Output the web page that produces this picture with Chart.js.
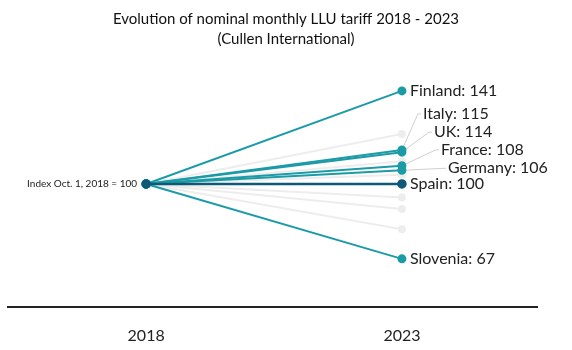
<!DOCTYPE html>
<html lang="en">
<head>
    <meta charset="UTF-8">
    <title>Evolution of nominal monthly LLU tariff 2018 - 2023</title>
    <script src="https://cdn.jsdelivr.net/npm/chart.js@4.4.0/dist/chart.umd.min.js"></script>
    <style>
        html, body { margin: 0; padding: 0; background: #fff; }
        #wrap { width: 572px; height: 350px; position: relative; }
    </style>
</head>
<body>
    <div id="wrap"><canvas id="chart"></canvas></div>

    <script>
        // data
        const years = [2018, 2023];
        const baseIndex = 100;
        const countries = ['Finland', 'Italy', 'UK', 'France', 'Germany', 'Spain', 'Slovenia'];
        const index2023 = [141, 115, 114, 108, 106, 100, 67];
        const otherIndex2023 = [122, 110, 104, 94, 89, 80];   // unlabelled grey countries
        const titleLines = ['Evolution of nominal monthly LLU tariff 2018 - 2023', '(Cullen International)'];
        const baseLabel = 'Index Oct. 1, 2018 = 100';

        const TEAL = '#1c9ba7';
        const DARK = '#0f5876';
        const GREY = '#ededed';

        // where each label sits relative to its point (dx, dy), leader line if offset
        const labelOffsets = {
            Finland: [8, 0], Italy: [21, -36], UK: [32, -20],
            France: [39, -16], Germany: [46, -2], Spain: [8, 0], Slovenia: [8, 0]
        };

        const datasets = [];
        otherIndex2023.forEach(v => {
            datasets.push({
                data: [{x: years[0], y: baseIndex}, {x: years[1], y: v}],
                borderColor: GREY, backgroundColor: GREY,
                borderWidth: 2, pointRadius: 3, order: 3
            });
        });
        countries.forEach((c, i) => {
            const isBase = c === 'Spain';
            datasets.push({
                label: c,
                data: [{x: years[0], y: baseIndex}, {x: years[1], y: index2023[i]}],
                borderColor: isBase ? DARK : TEAL,
                backgroundColor: isBase ? DARK : TEAL,
                borderWidth: isBase ? 2.5 : 2,
                pointRadius: 3.5,
                order: isBase ? 1 : 2
            });
        });

        const textPlugin = {
            id: 'textPlugin',
            beforeDatasetsDraw(chart) {
                const {ctx, scales: {x, y}} = chart;
                ctx.save();
                ctx.strokeStyle = '#cfcfcf';
                ctx.lineWidth = 1;
                countries.forEach((c, i) => {
                    const [dx, dy] = labelOffsets[c];
                    if (dx <= 8 && dy === 0) return;
                    const px = x.getPixelForValue(years[1]);
                    const py = y.getPixelForValue(index2023[i]);
                    ctx.beginPath();
                    ctx.moveTo(px, py);
                    ctx.lineTo(px + dx - 5, py + dy);
                    ctx.lineTo(px + dx - 2, py + dy);
                    ctx.stroke();
                });
                ctx.restore();
            },
            afterDatasetsDraw(chart) {
                const {ctx, scales: {x, y}} = chart;
                ctx.save();
                // left point drawn on top
                const lx = x.getPixelForValue(years[0]);
                const ly = y.getPixelForValue(baseIndex);
                ctx.fillStyle = DARK;
                ctx.beginPath();
                ctx.arc(lx, ly, 3.5, 0, Math.PI * 2);
                ctx.fill();

                ctx.fillStyle = '#222';
                ctx.textBaseline = 'middle';
                ctx.font = '10px Lato';
                ctx.textAlign = 'right';
                ctx.fillText(baseLabel, lx - 9, ly);

                ctx.textAlign = 'left';
                ctx.font = '16px Lato';
                countries.forEach((c, i) => {
                    const [dx, dy] = labelOffsets[c];
                    const px = x.getPixelForValue(years[1]);
                    const py = y.getPixelForValue(index2023[i]);
                    ctx.fillText(c + ': ' + index2023[i], px + dx, py + dy);
                });

                // title
                ctx.textAlign = 'center';
                ctx.fillStyle = '#111';
                ctx.font = '15px Lato';
                titleLines.forEach((t, k) => ctx.fillText(t, chart.width / 2, 19 + k * 20));
                ctx.restore();
            }
        };

        new Chart(document.getElementById('chart'), {
            type: 'line',
            data: { datasets },
            options: {
                responsive: true,
                maintainAspectRatio: false,
                animation: false,
                layout: { padding: { left: 8, right: 35, top: 60, bottom: 0 } },
                plugins: { legend: { display: false }, tooltip: { enabled: false } },
                scales: {
                    x: {
                        type: 'linear',
                        min: 2015.3,
                        max: 2025.64,
                        afterBuildTicks: s => { s.ticks = years.map(v => ({value: v})); },
                        afterFit: s => { s.height = 43; },
                        grid: { display: false, drawTicks: false },
                        border: { display: true, color: '#222', width: 2 },
                        ticks: {
                            padding: 19,
                            color: '#222',
                            font: { family: 'Lato', size: 16 },
                            callback: v => String(v)
                        }
                    },
                    y: {
                        display: false,
                        min: 45.8,
                        max: 154.6
                    }
                }
            },
            plugins: [textPlugin]
        });
    </script>
</body>
</html>
